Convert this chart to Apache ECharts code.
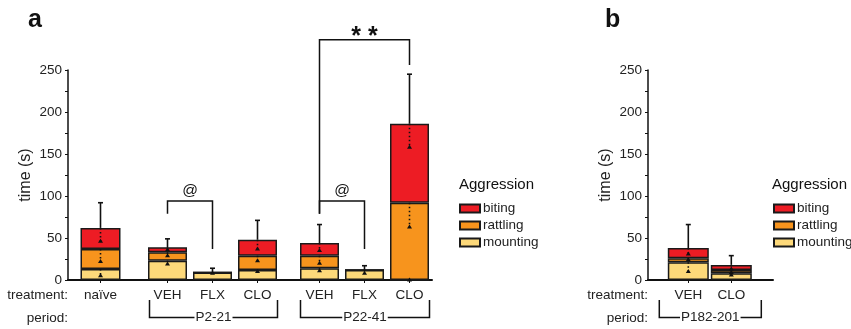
<!DOCTYPE html>
<html>
<head>
<meta charset="utf-8">
<script src="https://cdn.jsdelivr.net/npm/echarts@6/dist/echarts.min.js"></script>
<style>
html,body{margin:0;padding:0;background:#fff;}
#chart{width:851px;height:329px;}
</style>
</head>
<body>
<div id="chart"></div>
<script>
// ---------------- data ----------------
const panels     = ['a', 'a', 'a', 'a', 'a', 'a', 'a', 'b', 'b'];
const periods    = ['', 'P2-21', 'P2-21', 'P2-21', 'P22-41', 'P22-41', 'P22-41', 'P182-201', 'P182-201'];
const treatments = ['naïve', 'VEH', 'FLX', 'CLO', 'VEH', 'FLX', 'CLO', 'VEH', 'CLO'];
const mounting   = [13, 23, 9, 12, 14, 12, 0, 21, 8];
const rattling   = [24, 10, 0, 17, 15, 0, 92, 5, 4];
const biting     = [25, 6, 0, 19, 15, 0, 94, 12, 6];
const errorUpper = [92, 49, 14, 71, 66, 17, 245, 66, 29];
const mountingLow = [5, 19, 8, 10, 11, 8, 0, 10, 6];
const rattlingLow = [22, 29, null, 23, 20, null, 63, 24, 9];
const bitingLow   = [46, 36, null, 37, 35, null, 158, 31, 13];
const yTicks = [0, 50, 100, 150, 200, 250];

// significance comparisons
const compPeriod  = ['P2-21', 'P22-41', 'P22-41'];
const compFrom    = ['VEH', 'VEH', 'VEH'];
const compTo      = ['FLX', 'FLX', 'CLO'];
const compLabel   = ['@', '@', '* *'];
const compTop     = [94, 94, 286];
const compFromEnd = [79, 79, 79];
const compToEnd   = [37, 37, 256];

// ---------------- layout / style ----------------
const FONT = 'Liberation Sans, Arial, Helvetica, sans-serif';
const COLORS = {biting: '#ED1C24', rattling: '#F7941D', mounting: '#FDD97A'};
const TOP = 70, H = 210;
const groupLayout = [
  {panel: 'a', period: '',         left: 68,    width: 65,  barWidth: 40, legL: 0,  legR: 0},
  {panel: 'a', period: 'P2-21',    left: 145,   width: 135, barWidth: 39, legL: 18, legR: 20},
  {panel: 'a', period: 'P22-41',   left: 297,   width: 135, barWidth: 39, legL: 19, legR: 20},
  {panel: 'b', period: 'P182-201', left: 666.8, width: 86,  barWidth: 41, legL: 29, legR: 30}
];
const frames = [
  {panel: 'a', left: 68, width: 364},
  {panel: 'b', left: 648, width: 125}
];

const grids = [], xAxes = [], yAxes = [], series = [];

frames.forEach(f => {
  const gi = grids.length;
  grids.push({left: f.left, top: TOP, width: f.width, height: H});
  xAxes.push({gridIndex: gi, type: 'value', min: 0, max: 1,
    axisLine: {show: true, onZero: false, lineStyle: {color: '#111', width: 2}},
    axisTick: {show: false}, axisLabel: {show: false}, splitLine: {show: false}});
  yAxes.push({gridIndex: gi, type: 'value', min: yTicks[0], max: yTicks[yTicks.length - 1],
    interval: yTicks[1] - yTicks[0],
    axisLine: {show: true, lineStyle: {color: '#111', width: 1.5}},
    axisTick: {show: true, length: 3, lineStyle: {color: '#111', width: 1}},
    minorTick: {show: true, splitNumber: 2, length: 3, lineStyle: {color: '#111', width: 1}},
    splitLine: {show: false}, minorSplitLine: {show: false},
    axisLabel: {fontFamily: FONT, fontSize: 13.5, color: '#222', margin: 6},
    name: 'time (s)', nameLocation: 'middle', nameGap: 34,
    nameTextStyle: {fontFamily: FONT, fontSize: 16, color: '#222'}});
});

groupLayout.forEach(g => {
  const idx = [];
  treatments.forEach((t, i) => { if (panels[i] === g.panel && periods[i] === g.period) idx.push(i); });
  const gi = grids.length;
  grids.push({left: g.left, top: TOP, width: g.width, height: H});
  xAxes.push({gridIndex: gi, type: 'category', data: idx.map(i => treatments[i]),
    axisLine: {show: false},
    axisTick: {show: true, alignWithLabel: true, length: 3, lineStyle: {color: '#111'}},
    axisLabel: {fontFamily: FONT, fontSize: 13.5, color: '#222', margin: 8}});
  yAxes.push({gridIndex: gi, type: 'value', min: 0, max: 250, show: false});
  const stack = 'stk' + gi;
  const seg = {mounting, rattling, biting};
  ['mounting', 'rattling', 'biting'].forEach(name => {
    series.push({type: 'bar', name, stack, xAxisIndex: gi, yAxisIndex: gi,
      barWidth: g.barWidth, data: idx.map(i => seg[name][i]),
      itemStyle: {color: COLORS[name], borderColor: '#1a1a1a', borderWidth: 1.5},
      emphasis: {disabled: true}, z: 2});
  });
  // dotted segment lines with triangles
  const dotData = [];
  idx.forEach((i, k) => {
    const m = mounting[i], r = rattling[i], b = biting[i];
    if (mountingLow[i] != null && m > 0) dotData.push([k, m, mountingLow[i]]);
    if (rattlingLow[i] != null && r > 0) dotData.push([k, m + r, rattlingLow[i]]);
    if (bitingLow[i] != null && b > 0) dotData.push([k, m + r + b, bitingLow[i]]);
    if (m === 0 && mountingLow[i] != null) dotData.push([k, 0, mountingLow[i]]);
  });
  series.push({type: 'custom', xAxisIndex: gi, yAxisIndex: gi, z: 5, silent: true,
    data: dotData,
    renderItem: (params, api) => {
      const p1 = api.coord([api.value(0), api.value(1)]);
      const p2 = api.coord([api.value(0), api.value(2)]);
      const x = p1[0];
      return {type: 'group', children: [
        {type: 'line', shape: {x1: x, y1: p1[1], x2: x, y2: p2[1]},
          style: {stroke: '#111', lineWidth: 1.6, lineDash: [1.5, 2.5]}},
        {type: 'polygon', shape: {points: [[x - 2.5, p2[1] + 1.5], [x + 2.5, p2[1] + 1.5], [x, p2[1] - 2.5]]},
          style: {fill: '#111'}}
      ]};
    }});
  // error bars
  series.push({type: 'custom', xAxisIndex: gi, yAxisIndex: gi, z: 6, silent: true,
    data: idx.map((i, k) => [k, mounting[i] + rattling[i] + biting[i], errorUpper[i]]),
    renderItem: (params, api) => {
      const p1 = api.coord([api.value(0), api.value(1)]);
      const p2 = api.coord([api.value(0), api.value(2)]);
      const x = p1[0];
      return {type: 'group', children: [
        {type: 'line', shape: {x1: x, y1: p1[1], x2: x, y2: p2[1]}, style: {stroke: '#111', lineWidth: 1.6}},
        {type: 'line', shape: {x1: x - 2.5, y1: p2[1], x2: x + 2.5, y2: p2[1]}, style: {stroke: '#111', lineWidth: 1.6}}
      ]};
    }});
  // period bracket
  if (g.period) {
    series.push({type: 'custom', xAxisIndex: gi, yAxisIndex: gi, z: 6, silent: true,
      data: [[0, idx.length - 1]],
      renderItem: (params, api) => {
        const pl = api.coord([api.value(0), 0]);
        const pr = api.coord([api.value(1), 0]);
        const xl = pl[0] - g.legL, xr = pr[0] + g.legR;
        const y0 = pl[1] + 20, y1 = pl[1] + 37.5;
        return {type: 'group', children: [
          {type: 'polyline', shape: {points: [[xl, y0], [xl, y1], [xr, y1], [xr, y0]]},
            style: {stroke: '#111', lineWidth: 1.5, fill: null}},
          {type: 'text', x: (xl + xr) / 2, y: y1,
            style: {text: g.period, fontFamily: FONT, fontSize: 13.5, fill: '#222',
              align: 'center', verticalAlign: 'middle', backgroundColor: '#fff', padding: [0, 1]}}
        ]};
      }});
  }
  // comparisons
  const cData = [];
  compPeriod.forEach((p, c) => {
    if (p === g.period && g.period) {
      const cats = idx.map(i => treatments[i]);
      cData.push([cats.indexOf(compFrom[c]), cats.indexOf(compTo[c]), compTop[c], compFromEnd[c], compToEnd[c], c]);
    }
  });
  if (cData.length) {
    series.push({type: 'custom', xAxisIndex: gi, yAxisIndex: gi, z: 6, silent: true, clip: false,
      data: cData,
      renderItem: (params, api) => {
        const a = api.coord([api.value(0), api.value(2)]);
        const b = api.coord([api.value(1), api.value(2)]);
        const aEnd = api.coord([api.value(0), api.value(3)]);
        const bEnd = api.coord([api.value(1), api.value(4)]);
        const lab = compLabel[api.value(5)];
        const big = lab !== '@';
        return {type: 'group', children: [
          {type: 'polyline', shape: {points: [[a[0], aEnd[1]], [a[0], a[1]], [b[0], b[1]], [b[0], bEnd[1]]]},
            style: {stroke: '#111', lineWidth: 1.5, fill: null}},
          big
            ? {type: 'text', x: (a[0] + b[0]) / 2, y: a[1] - 3,
                style: {text: lab, fontFamily: FONT, fontSize: 25, fontWeight: 'bold',
                  fill: '#111', align: 'center', verticalAlign: 'middle'}}
            : {type: 'text', x: (a[0] + b[0]) / 2, y: a[1] - 2,
                style: {text: lab, fontFamily: FONT, fontSize: 15.5,
                  fill: '#111', align: 'center', verticalAlign: 'bottom'}}
        ]};
      }});
  }
});

const legendCommon = {orient: 'vertical', data: ['biting', 'rattling', 'mounting'], icon: 'rect',
  itemWidth: 20, itemHeight: 8, itemGap: 3, selectedMode: false,
  textStyle: {fontFamily: FONT, fontSize: 13.5, color: '#222', padding: [0, 0, 0, -2]}, padding: 0};

const option = {
  animation: false,
  backgroundColor: '#fff',
  title: [
    {text: 'a', left: 28, top: 8, padding: 0, textStyle: {fontFamily: FONT, fontSize: 25, fontWeight: 'bold', color: '#111'}},
    {text: 'b', left: 605, top: 8, padding: 0, textStyle: {fontFamily: FONT, fontSize: 25, fontWeight: 'bold', color: '#111'}},
    {text: 'Aggression', left: 459, top: 177, padding: 0, textStyle: {fontFamily: FONT, fontSize: 15, fontWeight: 'normal', color: '#111'}},
    {text: 'Aggression', left: 772, top: 177, padding: 0, textStyle: {fontFamily: FONT, fontSize: 15, fontWeight: 'normal', color: '#111'}}
  ],
  legend: [
    Object.assign({left: 459, top: 201.5}, legendCommon),
    Object.assign({left: 773, top: 201.5}, legendCommon)
  ],
  graphic: [
    {type: 'text', right: 851 - 68, top: 288, style: {text: 'treatment:', fontFamily: FONT, fontSize: 13.5, fill: '#222'}},
    {type: 'text', right: 851 - 68, top: 311, style: {text: 'period:', fontFamily: FONT, fontSize: 13.5, fill: '#222'}},
    {type: 'text', right: 851 - 648, top: 288, style: {text: 'treatment:', fontFamily: FONT, fontSize: 13.5, fill: '#222'}},
    {type: 'text', right: 851 - 648, top: 311, style: {text: 'period:', fontFamily: FONT, fontSize: 13.5, fill: '#222'}}
  ],
  grid: grids,
  xAxis: xAxes,
  yAxis: yAxes,
  series
};

const chart = echarts.init(document.getElementById('chart'), null, {renderer: 'canvas'});
chart.setOption(option);
</script>
</body>
</html>
